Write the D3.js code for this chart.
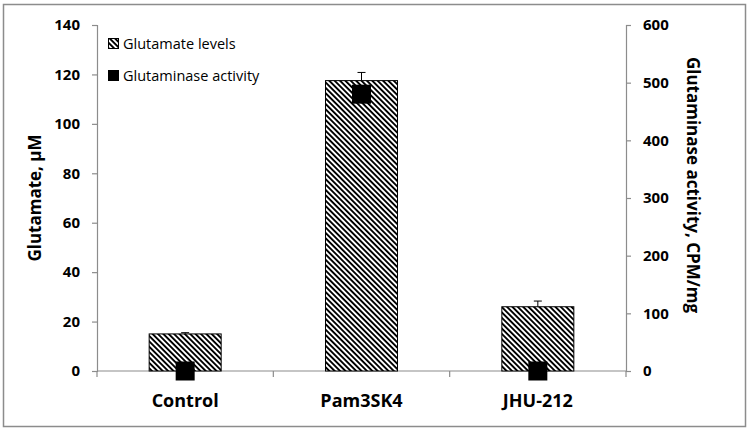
<!DOCTYPE html>
<html><head><meta charset="utf-8">
<script src="https://cdn.jsdelivr.net/npm/d3@7"></script>
<style>body{margin:0;background:#fff}svg{display:block}</style>
</head><body>
<svg id="c" width="750" height="431"></svg>
<script>
const categories = ["Control", "Pam3SK4", "JHU-212"];
const glutamate = [15, 117.5, 26];
const glutamateErr = [0.5, 3.3, 2.3];
const glutaminase = [0, 480, 0];
const leftTicks = [0, 20, 40, 60, 80, 100, 120, 140];
const rightTicks = [0, 100, 200, 300, 400, 500, 600];
const legendLabels = ["Glutamate levels", "Glutaminase activity"];

const svg = d3.select("#c");
const font = "'Open Sans', 'Liberation Sans', sans-serif";
const axisColor = "#8c8c8c";
const L = 97, R = 626, T = 25, B = 371;

const defs = svg.append("defs");
const pw = 3.8;
const pat = defs.append("pattern").attr("id", "hatch").attr("patternUnits", "userSpaceOnUse")
  .attr("width", pw).attr("height", pw).attr("patternTransform", "rotate(-45)");
pat.append("rect").attr("width", pw).attr("height", pw).attr("fill", "#fff");
pat.append("rect").attr("x", 0).attr("width", 1.9).attr("height", pw).attr("fill", "#000");

svg.append("rect").attr("x", 3.5).attr("y", 4.5).attr("width", 742).attr("height", 422)
  .attr("fill", "none").attr("stroke", "#8c8c8c").attr("stroke-width", 1.5);

const x = d3.scaleBand().domain(categories).range([L, R]).paddingInner(0).paddingOuter(0);
const yL = d3.scaleLinear().domain([0, 140]).range([B, T]);
const yR = d3.scaleLinear().domain([0, 600]).range([B, T]);

// axes
const gL = svg.append("g").attr("transform", `translate(${L},0)`)
  .call(d3.axisLeft(yL).tickValues(leftTicks).tickSize(5).tickPadding(12));
const gR = svg.append("g").attr("transform", `translate(${R},0)`)
  .call(d3.axisRight(yR).tickValues(rightTicks).tickSize(5).tickPadding(12));
[gL, gR].forEach(g => {
  g.select(".domain").attr("stroke", axisColor).attr("stroke-width", 1.2);
  g.selectAll(".tick line").attr("stroke", axisColor).attr("stroke-width", 1.2);
  g.selectAll(".tick text").attr("font-family", font).attr("font-weight", "bold")
    .attr("font-size", 15).attr("fill", "#000");
});

// x axis line and ticks at band boundaries
const bounds = categories.map(c => x(c)).concat([R]);
svg.append("line").attr("x1", L).attr("x2", R).attr("y1", B).attr("y2", B)
  .attr("stroke", axisColor).attr("stroke-width", 1.2);
svg.selectAll(".xt").data(bounds).enter().append("line")
  .attr("x1", d => d).attr("x2", d => d).attr("y1", B).attr("y2", B + 6)
  .attr("stroke", axisColor).attr("stroke-width", 1.2);
svg.selectAll(".xl").data(categories).enter().append("text")
  .attr("x", d => x(d) + x.bandwidth() / 2).attr("y", 407)
  .attr("text-anchor", "middle").attr("font-family", font).attr("font-weight", "bold")
  .attr("font-size", 18).text(d => d);

// bars
const bw = 72;
svg.selectAll(".bar").data(categories).enter().append("rect")
  .attr("x", d => x(d) + x.bandwidth() / 2 - bw / 2)
  .attr("y", (d, i) => yL(glutamate[i]))
  .attr("width", bw).attr("height", (d, i) => B - yL(glutamate[i]))
  .attr("fill", "url(#hatch)").attr("stroke", "#000").attr("stroke-width", 1);

// error bars
categories.forEach((c, i) => {
  const cx = x(c) + x.bandwidth() / 2;
  svg.append("line").attr("x1", cx).attr("x2", cx)
    .attr("y1", yL(glutamate[i])).attr("y2", yL(glutamate[i] + glutamateErr[i]))
    .attr("stroke", "#000").attr("stroke-width", 1);
  svg.append("line").attr("x1", cx - 4).attr("x2", cx + 4)
    .attr("y1", yL(glutamate[i] + glutamateErr[i])).attr("y2", yL(glutamate[i] + glutamateErr[i]))
    .attr("stroke", "#000").attr("stroke-width", 1);
});

// markers
const ms = 19;
svg.selectAll(".mk").data(categories).enter().append("rect")
  .attr("x", d => x(d) + x.bandwidth() / 2 - ms / 2)
  .attr("y", (d, i) => yR(glutaminase[i]) - ms / 2)
  .attr("width", ms).attr("height", ms).attr("fill", "#000");

// legend
svg.append("rect").attr("x", 108.5).attr("y", 38.5).attr("width", 10).attr("height", 10)
  .attr("fill", "url(#hatch)").attr("stroke", "#000").attr("stroke-width", 1);
svg.append("rect").attr("x", 108).attr("y", 70).attr("width", 11).attr("height", 11).attr("fill", "#000");
legendLabels.forEach((t, i) => {
  svg.append("text").attr("x", 123).attr("y", 49 + i * 32).attr("font-family", font)
    .attr("font-size", 14.5).attr("fill", "#000").text(t);
});

// axis titles
svg.append("text").attr("transform", "translate(41,198) rotate(-90)")
  .attr("text-anchor", "middle").attr("font-family", font).attr("font-weight", "bold")
  .attr("font-size", 17).text("Glutamate, µM");
svg.append("text").attr("transform", "translate(687,185) rotate(90)")
  .attr("text-anchor", "middle").attr("font-family", font).attr("font-weight", "bold")
  .attr("font-size", 17).text("Glutaminase activity, CPM/mg");
</script>
</body></html>
